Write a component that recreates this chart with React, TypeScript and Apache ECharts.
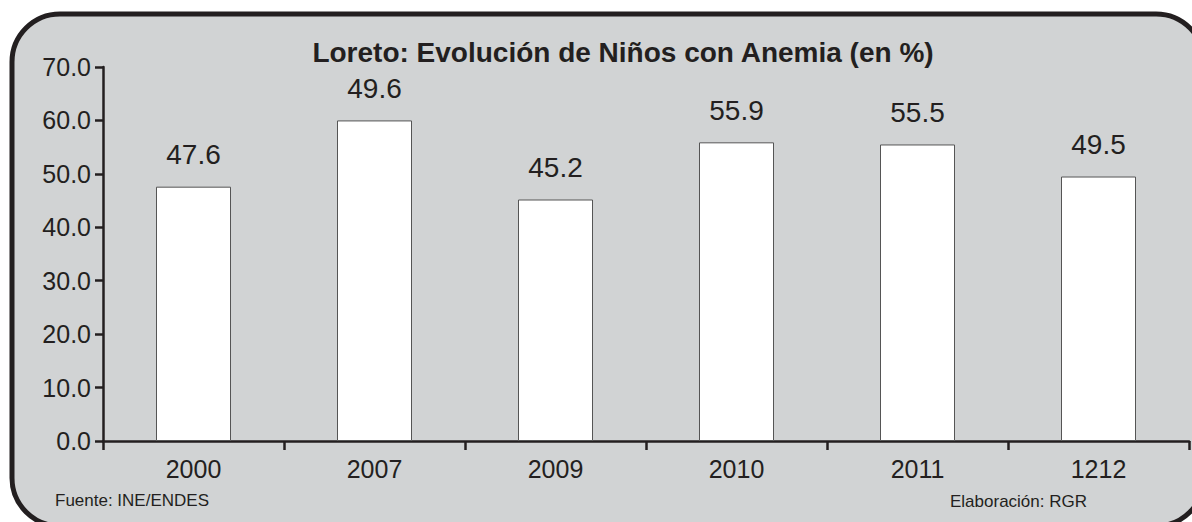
import React, { useEffect, useRef } from "react";
import * as echarts from "echarts";

const categories = ["2000", "2007", "2009", "2010", "2011", "1212"];
const barValues = [47.6, 60.0, 45.2, 55.9, 55.5, 49.5];
const labelValues = ["47.6", "49.6", "45.2", "55.9", "55.5", "49.5"];
const titleText = "Loreto: Evolución de Niños con Anemia (en %)";
const sourceText = "Fuente: INE/ENDES";
const creditText = "Elaboración: RGR";

const FONT = "'Liberation Sans', Arial, sans-serif";
const INK = "#231f20";

export default function App() {
  const ref = useRef<HTMLDivElement>(null);
  useEffect(() => {
    document.body.style.margin = "0";
    const chart = echarts.init(ref.current!, null, { renderer: "svg" });
    chart.setOption({
      animation: false,
      backgroundColor: "#ffffff",
      title: {
        text: titleText,
        left: 618,
        top: 33,
        textAlign: "center",
        textStyle: { fontFamily: FONT, fontSize: 28, fontWeight: "bold", color: INK },
      },
      graphic: [
        {
          type: "rect",
          z: -100,
          shape: { x: 12, y: 14, width: 1192, height: 512, r: 48 },
          style: { fill: "#d1d3d4", stroke: INK, lineWidth: 5 },
        },
        {
          type: "text",
          left: 55,
          top: 492,
          style: { text: sourceText, fontFamily: FONT, fontSize: 17, fill: INK },
        },
        {
          type: "text",
          left: 950,
          top: 493,
          style: { text: creditText, fontFamily: FONT, fontSize: 17, fill: INK },
        },
      ],
      grid: { left: 103, right: 3, top: 67, bottom: 81, containLabel: false },
      xAxis: {
        type: "category",
        data: categories,
        boundaryGap: true,
        axisLine: { lineStyle: { color: INK, width: 2.5 } },
        axisTick: { show: true, length: 9, lineStyle: { color: INK, width: 2.5 }, alignWithLabel: false },
        axisLabel: { fontFamily: FONT, fontSize: 25, color: INK, margin: 15 },
      },
      yAxis: {
        type: "value",
        min: 0,
        max: 70,
        interval: 10,
        splitLine: { show: false },
        axisLine: { show: true, lineStyle: { color: INK, width: 2.5 } },
        axisTick: { show: true, length: 8, lineStyle: { color: INK, width: 2.5 } },
        axisLabel: {
          fontFamily: FONT,
          fontSize: 25,
          color: INK,
          margin: 12,
          formatter: (v: number) => v.toFixed(1),
        },
      },
      series: [
        {
          type: "bar",
          data: barValues,
          barWidth: 75,
          itemStyle: { color: "#ffffff", borderColor: "#555555", borderWidth: 1 },
          label: {
            show: true,
            position: "top",
            distance: 18,
            fontFamily: FONT,
            fontSize: 28,
            color: INK,
            formatter: (p: any) => labelValues[p.dataIndex],
          },
        },
      ],
    });
    return () => chart.dispose();
  }, []);
  return <div ref={ref} style={{ width: 1192, height: 522 }} />;
}
